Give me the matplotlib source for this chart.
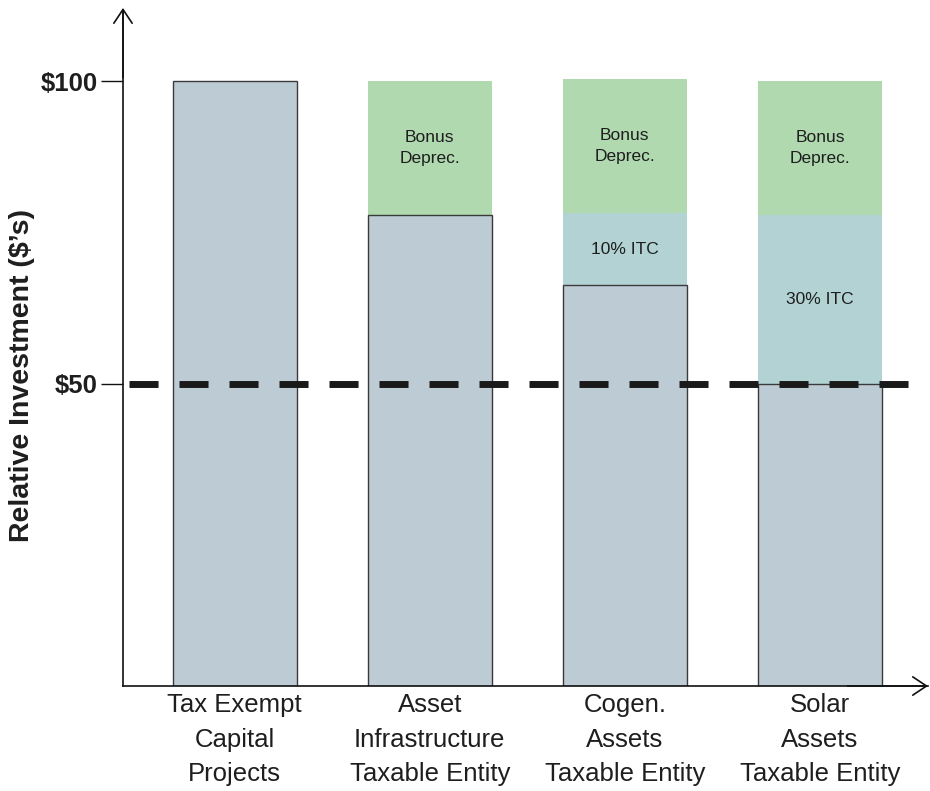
import matplotlib.pyplot as plt
import numpy as np

categories = ["Tax Exempt\nCapital\nProjects",
              "Asset\nInfrastructure\nTaxable Entity",
              "Cogen.\nAssets\nTaxable Entity",
              "Solar\nAssets\nTaxable Entity"]
base = [100, 77.9, 66.3, 50]
itc = [0, 0, 11.9, 27.9]
bonus = [0, 22.1, 22.2, 22.1]
itc_labels = ["", "", "10% ITC", "30% ITC"]
bonus_label = "Bonus\nDeprec."
threshold = 50
yticks = [50, 100]
ytick_labels = ["$50", "$100"]

grey = "#bdcbd5"
teal = "#b2d2d3"
green = "#b0d9b0"
txt = "#1e1e1e"

fig = plt.figure(figsize=(9.3, 7.91), dpi=100)
ax = fig.add_axes([123 / 930, 1 - 686 / 791, (928 - 123) / 930, (686 - 10) / 791])

x = np.arange(len(categories))
w = 0.636
base = np.array(base)
itc = np.array(itc)
bonus = np.array(bonus)

ax.bar(x, base, width=w, color=grey, edgecolor="#3a3a3a", linewidth=1.0, zorder=3)
ax.bar(x, itc, width=w, bottom=base, color=teal, linewidth=0, zorder=2)
ax.bar(x, bonus, width=w, bottom=base + itc, color=green, linewidth=0, zorder=2)

for i in range(len(x)):
    if itc[i] > 0:
        ax.text(x[i], base[i] + itc[i] / 2, itc_labels[i], ha="center", va="center",
                fontsize=12.5, color=txt, family="Liberation Sans", zorder=5)
    if bonus[i] > 0:
        ax.text(x[i], base[i] + itc[i] + bonus[i] / 2, bonus_label, ha="center",
                va="center", fontsize=12.5, color=txt, family="Liberation Sans",
                linespacing=1.55, zorder=5)

# dashed reference line
lw = 5
ax.plot([-0.54, 3.52], [threshold, threshold], color="#1a1a1a", lw=lw,
        dashes=(20.9 / lw, 15.1 / lw), dash_capstyle="butt", zorder=6)

ax.set_xlim(-0.572, 3.554)
ax.set_ylim(0, 111.8)

for s in ["top", "right"]:
    ax.spines[s].set_visible(False)
for s in ["left", "bottom"]:
    ax.spines[s].set_linewidth(1.2)
    ax.spines[s].set_color("#111111")
    ax.spines[s].set_zorder(4)

# open arrow heads at the axis ends
arrow = dict(arrowstyle="->,head_length=0.45,head_width=0.3", lw=1.2,
             color="#111111", shrinkA=0, shrinkB=0, mutation_scale=22)
ax.annotate("", xy=(0, 1.003), xytext=(0, 0.9), xycoords="axes fraction", arrowprops=arrow)
ax.annotate("", xy=(1, 0), xytext=(0.9, 0), xycoords="axes fraction", arrowprops=arrow)

ax.set_yticks(yticks)
ax.set_yticklabels(ytick_labels, fontsize=18.5, fontweight="bold", color=txt,
                   family="Liberation Sans")
ax.tick_params(axis="y", length=16, width=1.0, color="#111111", pad=2)

ax.set_xticks(x)
ax.set_xticklabels(categories, fontsize=18.5, color=txt, linespacing=1.56,
                   family="Liberation Sans")
ax.tick_params(axis="x", length=0, pad=5)

ax.set_ylabel("Relative Investment ($\u2019s)", fontsize=20.5, fontweight="bold",
              color=txt, family="Liberation Sans")
ax.yaxis.set_label_coords(-0.109, 0.4586)

fig.savefig("out.png", dpi=100)
